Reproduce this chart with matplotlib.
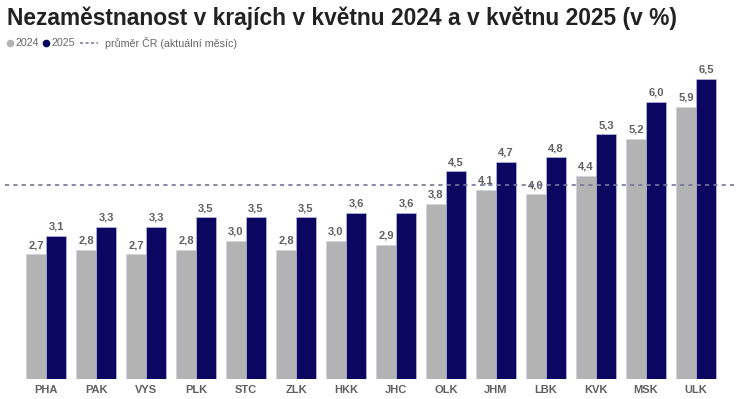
import matplotlib
matplotlib.use("Agg")
import matplotlib.pyplot as plt
from matplotlib.lines import Line2D
import numpy as np

plt.rcParams['font.family'] = ['Liberation Sans', 'DejaVu Sans']

regions = ["PHA", "PAK", "VYS", "PLK", "STC", "ZLK", "HKK", "JHC", "OLK", "JHM", "LBK", "KVK", "MSK", "ULK"]
v2024 = [2.7, 2.8, 2.7, 2.8, 3.0, 2.8, 3.0, 2.9, 3.8, 4.1, 4.0, 4.4, 5.2, 5.9]
v2025 = [3.1, 3.3, 3.3, 3.5, 3.5, 3.5, 3.6, 3.6, 4.5, 4.7, 4.8, 5.3, 6.0, 6.5]
avg_cr = 4.2
series_names = ["2024", "2025"]
avg_label = "průměr ČR (aktuální měsíc)"

c24 = "#b3b3b3"
c25 = "#0b0760"
txt = "#606060"
dash_c = "#75759a"

W, H = 741, 399
fig = plt.figure(figsize=(W/100, H/100), dpi=100)
ax = fig.add_axes([5/W, 20/H, 730/W, 319/H])

x = np.arange(len(regions))
w = 0.4
b1 = ax.bar(x - w/2, v2024, w, color=c24, edgecolor="#d0d0e8", linewidth=0.4)
b2 = ax.bar(x + w/2, v2025, w, color=c25, edgecolor="#c8c8f0", linewidth=0.4)

for bars, vals in ((b1, v2024), (b2, v2025)):
    for r, v in zip(bars, vals):
        ax.annotate(f"{v:.1f}".replace(".", ","), (r.get_x() + r.get_width()/2, v),
                    xytext=(0, 3), textcoords="offset points", ha="center", va="bottom",
                    fontsize=8, fontweight="bold", color=txt)

ax.axhline(avg_cr, color=dash_c, linestyle=(0, (2.5, 2.5)), linewidth=1.2, zorder=5)

ax.set_xlim(-0.82, 13.78)
ax.set_ylim(0, 319/46.15)
ax.set_xticks(x)
ax.set_xticklabels(regions, fontsize=8, fontweight="bold", color=txt)
ax.tick_params(axis="x", length=0, pad=4)
ax.set_yticks([])
for s in ax.spines.values():
    s.set_visible(False)

fig.text(7/W, 1 - 18/H, "Nezaměstnanost v krajích v květnu 2024 a v květnu 2025 (v %)",
         fontsize=16.4, fontweight="bold", color="#222222", va="center", ha="left")

# manual legend
ly = 1 - 43/H
leg_fs = 7.7
leg_c = "#666666"
fig.add_artist(Line2D([10/W], [ly], marker="o", linestyle="none", color=c24, markersize=4.5,
                      transform=fig.transFigure))
fig.text(15/W, ly, series_names[0], fontsize=leg_fs, color=leg_c, va="center", ha="left")
fig.add_artist(Line2D([46/W], [ly], marker="o", linestyle="none", color=c25, markersize=4.5,
                      transform=fig.transFigure))
fig.text(52/W, ly, series_names[1], fontsize=leg_fs, color=leg_c, va="center", ha="left")
fig.add_artist(Line2D([80/W, 98/W], [ly, ly], linestyle=(0, (2, 1.6)), color=dash_c,
                      linewidth=1.1, transform=fig.transFigure))
fig.text(105/W, ly, avg_label, fontsize=leg_fs, color=leg_c, va="center", ha="left")

fig.savefig("out.png", dpi=100)
